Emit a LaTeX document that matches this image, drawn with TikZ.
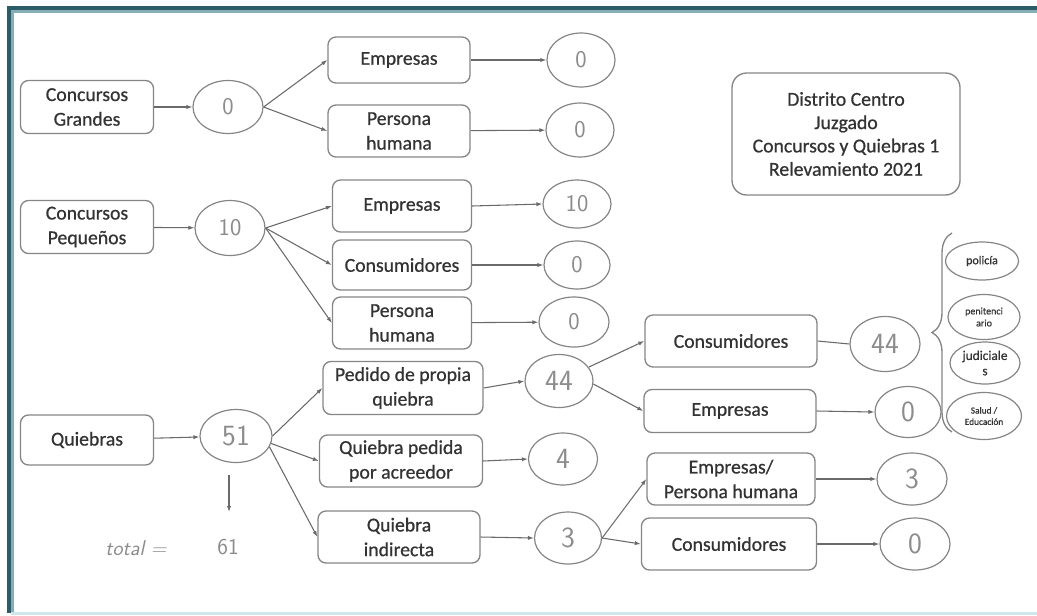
\documentclass[tikz,border=0pt]{standalone}
\usepackage{fontspec}
\setmainfont{Carlito}
\newfontfamily\boxfont{Carlito}[FakeBold=0.7]
\usetikzlibrary{arrows.meta,shapes.geometric,decorations.pathreplacing}

\definecolor{frameteal}{HTML}{2B5C68}
\definecolor{framelight}{HTML}{86AEB7}
\definecolor{framebottom}{HTML}{CFE7EB}
\definecolor{boxline}{HTML}{858585}
\definecolor{boxtext}{HTML}{333333}
\definecolor{handgray}{HTML}{8C8C8C}
\definecolor{linkgray}{HTML}{6A6A6A}

\tikzset{
  bx/.style 2 args={draw=boxline, line width=1pt, rounded corners=6pt,
    minimum width=#1*0.75pt, minimum height=#2*0.75pt, align=center,
    inner sep=1pt, text=boxtext, font=\boxfont\fontsize{14.8}{18.5}\selectfont},
  ov/.style 2 args={draw=boxline, ellipse, line width=0.9pt,
    minimum width=#1*0.75pt, minimum height=#2*0.75pt, inner sep=0pt,
    text=handgray, font=\sffamily\fontsize{22}{22}\selectfont},
  small/.style={font=\sffamily\fontsize{18}{18}\selectfont},
  sub/.style 2 args={draw=boxline, ellipse, line width=0.9pt,
    minimum width=#1*0.75pt, minimum height=#2*0.75pt, inner sep=0pt,
    align=center, text=boxtext},
  arr/.style={draw=linkgray, line width=0.8pt, -{Latex[length=4.5pt,width=3.2pt]}},
  lnk/.style={draw=linkgray, line width=0.8pt},
  hand/.style={text=handgray, font=\sffamily\fontsize{17}{17}\selectfont}
}

\begin{document}
\begin{tikzpicture}[x=0.75pt, y=-0.75pt]
  \useasboundingbox (0,0) rectangle (1037,615);

  % frame
  \fill[frameteal] (7,6) rectangle (1037,10);
  \fill[framelight] (11,10) rectangle (1037,12.5);
  \fill[frameteal] (7,6) rectangle (11,613);
  \fill[framelight] (11,10) rectangle (13.5,613);
  \fill[framebottom] (11,612) rectangle (1037,615);

  % left column
  \node[bx={133}{53}] (cg) at (87,107) {Concursos\\Grandes};
  \node[bx={133}{53}] (cp) at (87,227) {Concursos\\Pequeños};
  \node[bx={133}{50}] (qb) at (87,440) {Quiebras};

  \node[ov={70}{53}, small] (n0)  at (228,107) {0};
  \node[ov={70}{55}, small] (n10) at (230,228) {10};
  \node[ov={72}{53}] (n51) at (236,436) {51};

  % concursos grandes
  \node[bx={142}{46}] (gE) at (399,60)  {Empresas};
  \node[bx={142}{52}] (gP) at (399,131) {Persona\\humana};
  \node[ov={68}{54}, small] (gE0) at (581,60)  {0};
  \node[ov={68}{54}, small] (gP0) at (580,130) {0};

  % concursos pequeños
  \node[bx={139}{52}] (pE) at (402,206) {Empresas};
  \node[bx={139}{50}] (pC) at (402,265) {Consumidores};
  \node[bx={139}{52}] (pP) at (402,323) {Persona\\humana};
  \node[ov={68}{48}, small] (pE0) at (577,204) {10};
  \node[ov={66}{48}, small] (pC0) at (577,265) {0};
  \node[ov={70}{50}, small] (pP0) at (574,322) {0};

  % quiebras
  \node[bx={160}{53}] (qP) at (403,388) {Pedido de propia\\quiebra};
  \node[bx={163}{52}] (qA) at (401,461) {Quiebra pedida\\por acreedor};
  \node[bx={162}{52}] (qI) at (399,537) {Quiebra\\indirecta};
  \node[ov={68}{53}] (q44) at (559,381) {44};
  \node[ov={69}{52}] (q4)  at (563,459) {4};
  \node[ov={67}{52}] (q3)  at (568,538) {3};

  \node[bx={172}{52}] (rC)  at (731,341) {Consumidores};
  \node[bx={172}{43}] (rE)  at (730,411) {Empresas};
  \node[ov={70}{55}] (r44) at (885,344) {44};
  \node[ov={66}{51}] (r0)  at (908,412) {0};

  \node[bx={168}{52}] (rEP) at (731,479) {Empresas/\\Persona humana};
  \node[bx={175}{52}] (rC2) at (729,544) {Consumidores};
  \node[ov={70}{52}] (r3)  at (912,479) {3};
  \node[ov={70}{52}] (r0b) at (915,544) {0};

  % heading box
  \node[bx={228}{122}, rounded corners=11pt, font=\boxfont\fontsize{14.8}{17.5}\selectfont]
    (info) at (846,134) {Distrito Centro\\Juzgado\\Concursos y Quiebras 1\\Relevamiento 2021};

  % breakdown of the 44 consumers
  \node[sub={73}{38}, font=\boxfont\fontsize{9}{10}\selectfont] (s1) at (982,261) {policía};
  \node[sub={72}{45}, font=\boxfont\fontsize{7.5}{9}\selectfont] (s2) at (984,317) {penitenci\\ario};
  \node[sub={70}{42}, font=\boxfont\fontsize{10}{11.5}\selectfont] (s3) at (985,363) {judiciale\\s};
  \node[sub={75}{47}, font=\boxfont\fontsize{7}{8.5}\selectfont] (s4) at (984,416) {Salud /\\Educación};
  \draw[draw=boxline, line width=1pt, decorate, decoration={brace, amplitude=15pt}]
    (952,432) -- (952,233);

  % total
  \node[hand, font=\sffamily\itshape\fontsize{16}{16}\selectfont] (tot) at (136,548) {total =};
  \node[hand] (t61) at (228,547) {61};
  \coordinate (tend) at (229,512);

  % connectors
  \draw[arr] (cg) -- (n0);
  \draw[arr] (n0.east) -- (gE.west);
  \draw[arr] (n0.east) -- (gP.west);
  \draw[arr] (gE) -- (gE0);
  \draw[arr] (gP) -- (gP0);

  \draw[arr] (cp) -- (n10);
  \draw[arr] (n10.east) -- (pE.west);
  \draw[arr] (n10.east) -- (pC.west);
  \draw[arr] (n10.east) -- (pP.west);
  \draw[arr] (pE.east) -- (pE0.west);
  \draw[arr] (pC) -- (pC0);
  \draw[arr] (pP) -- (pP0);

  \draw[arr] (qb) -- (n51);
  \draw[arr] (n51.east) -- (qP.west);
  \draw[arr] (n51.-12) -- (qA.west);
  \draw[arr] (n51.-18) -- (qI.west);
  \draw[arr] (qP.east) -- (q44.west);
  \draw[arr] (qA.east) -- (q4.west);
  \draw[arr] (qI.east) -- (q3.west);

  \draw[arr] (q44.25) -- (rC.west);
  \draw[arr] (q44.-5) -- (rE.west);
  \draw[lnk] (rC.east) -- (r44.west);
  \draw[arr] (rE.east) -- (r0.west);

  \draw[arr] (q3.east) -- (rEP.west);
  \draw[arr] (q3.east) -- (rC2.west);
  \draw[arr] (rEP.east) -- (r3.west);
  \draw[arr] (rC2.east) -- (r0b.west);

  \draw[arr] (n51.south -| tend) ++(0,12) -- (tend);
\end{tikzpicture}
\end{document}
